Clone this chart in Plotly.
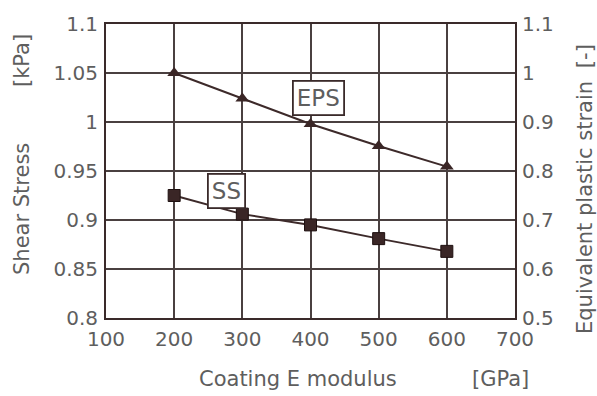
import plotly.graph_objects as go

modulus = [200, 300, 400, 500, 600]
shear_stress = [0.925, 0.906, 0.895, 0.881, 0.868]
eps_strain = [1.0, 0.948, 0.896, 0.851, 0.809]

x_ticks = [100, 200, 300, 400, 500, 600, 700]
left_ticks = [0.8, 0.85, 0.9, 0.95, 1.0, 1.05, 1.1]
left_labels = ["0.8", "0.85", "0.9", "0.95", "1", "1.05", "1.1"]
right_ticks = [0.5, 0.6, 0.7, 0.8, 0.9, 1.0, 1.1]
right_labels = ["0.5", "0.6", "0.7", "0.8", "0.9", "1", "1.1"]

LINE = "#3d2a2a"
GRID = "#4a4040"
TXT = "#5e5e5e"
FONT = "DejaVu Sans, Liberation Sans, Arial, sans-serif"

fig = go.Figure()
fig.add_trace(go.Scatter(x=modulus, y=shear_stress, mode="lines+markers",
                         line=dict(color=LINE, width=2),
                         marker=dict(symbol="square", size=12, color="#3a2626",
                                     line=dict(color="#1e1010", width=1)),
                         yaxis="y", showlegend=False))
fig.add_trace(go.Scatter(x=modulus, y=eps_strain, mode="lines+markers",
                         line=dict(color=LINE, width=2),
                         marker=dict(symbol="triangle-up", size=12, color="#3a2626"),
                         yaxis="y2", showlegend=False))

fig.update_layout(
    width=597, height=396,
    margin=dict(l=106, r=82, t=16, b=78),
    paper_bgcolor="white", plot_bgcolor="white",
    font=dict(family=FONT, color=TXT, size=20),
    xaxis=dict(range=[100, 700], tickvals=x_ticks, ticktext=[str(v) for v in x_ticks],
               showgrid=True, gridcolor=GRID, gridwidth=1.6,
               showline=True, linecolor="#3a2a2a", linewidth=2, mirror=True,
               ticks="", zeroline=False, tickfont=dict(size=20, color=TXT),
               ticklabelstandoff=2),
    yaxis=dict(range=[0.8, 1.1], tickvals=left_ticks, ticktext=left_labels,
               showgrid=True, gridcolor=GRID, gridwidth=1.6,
               showline=True, linecolor="#3a2a2a", linewidth=2,
               ticks="", zeroline=False, tickfont=dict(size=20, color=TXT),
               ticklabelstandoff=2),
    yaxis2=dict(range=[0.5, 1.1], tickvals=right_ticks, ticktext=right_labels,
                overlaying="y", side="right", showgrid=False,
                showline=True, linecolor="#3a2a2a", linewidth=2,
                ticks="", zeroline=False, tickfont=dict(size=20, color=TXT),
                ticklabelstandoff=1),
)

ann = [
    dict(text="Shear Stress", x=22, y=206, textangle=-90, size=21),
    dict(text="[kPa]", x=22, y=54, textangle=-90, size=21),
    dict(text="Equivalent plastic strain", x=585, y=205, textangle=-90, size=21),
    dict(text="[-]", x=585, y=49, textangle=-90, size=21),
    dict(text="Coating E modulus", x=298, y=381, textangle=0, size=21),
    dict(text="[GPa]", x=500, y=381, textangle=0, size=21),
]
for a in ann:
    fig.add_annotation(text=a["text"], xref="paper", yref="paper",
                       x=(a["x"] - 106) / 409, y=1 - (a["y"] - 16) / 302,
                       xanchor="center", yanchor="middle", textangle=a["textangle"],
                       showarrow=False, font=dict(size=a["size"], color=TXT, family=FONT))

fig.add_annotation(text="EPS", x=411, y=1.0245, xref="x", yref="y", showarrow=False,
                   font=dict(size=23, color=TXT, family=FONT), bgcolor="white",
                   bordercolor="#3a2a2a", borderwidth=1.8, borderpad=3)
fig.add_annotation(text="SS", x=277, y=0.930, xref="x", yref="y", showarrow=False,
                   font=dict(size=23, color=TXT, family=FONT), bgcolor="white",
                   bordercolor="#3a2a2a", borderwidth=1.8, borderpad=3)

fig.write_html("out.html", config={"displayModeBar": False},
               post_script="document.body.style.margin='0';")
